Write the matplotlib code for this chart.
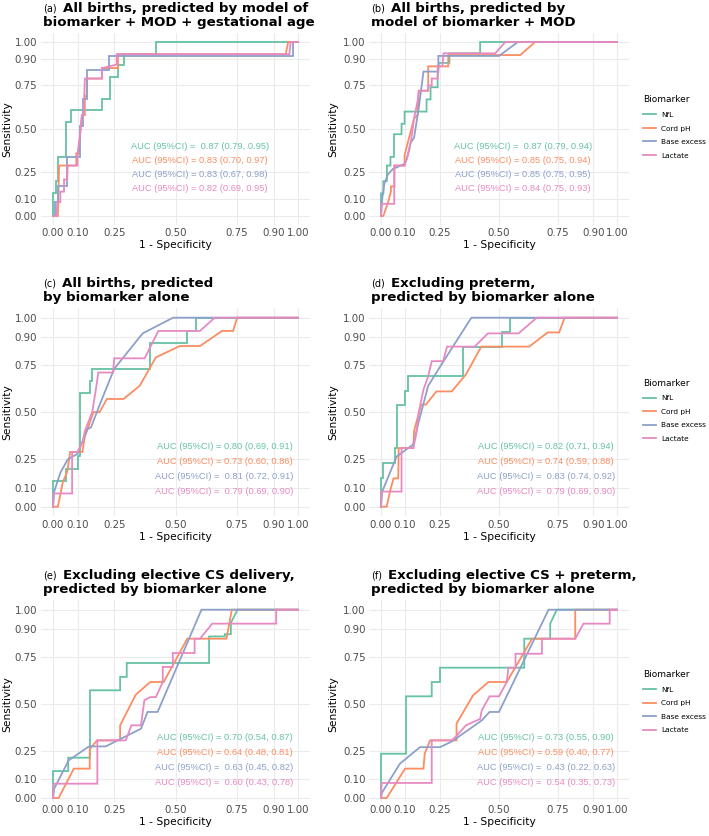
import matplotlib
matplotlib.use('Agg')
import matplotlib.pyplot as plt

W, H = 709, 836

biomarkers = ['NfL', 'Cord pH', 'Base excess', 'Lactate']
colours = ['#66C2A5', '#FC8D62', '#8DA0CB', '#E78AC3']
breaks = [0, 0.1, 0.25, 0.5, 0.75, 0.9, 1]
break_labels = ['0.00', '0.10', '0.25', '0.50', '0.75', '0.90', '1.00']

# ROC curves, as (1 - specificity, sensitivity)
a_nfl = [(0, 0), (0, 0.13), (0.012, 0.13), (0.012, 0.2), (0.02, 0.2), (0.02, 0.34), (0.055, 0.34),
         (0.055, 0.54), (0.074, 0.54), (0.074, 0.61), (0.2, 0.61), (0.2, 0.67), (0.233, 0.67),
         (0.233, 0.8), (0.266, 0.8), (0.266, 0.87), (0.29, 0.87), (0.29, 0.93), (0.42, 0.93),
         (0.42, 1.0), (1, 1)]
a_ph = [(0, 0), (0.02, 0), (0.025, 0.29), (0.095, 0.29), (0.095, 0.36), (0.105, 0.36), (0.11, 0.46),
        (0.118, 0.58), (0.13, 0.58), (0.13, 0.69), (0.137, 0.69), (0.14, 0.79), (0.2, 0.79),
        (0.2, 0.85), (0.265, 0.85), (0.265, 0.93), (0.95, 0.93), (0.96, 1.0), (1, 1)]
a_be = [(0, 0), (0.01, 0), (0.01, 0.08), (0.022, 0.08), (0.022, 0.17), (0.058, 0.17), (0.058, 0.34),
        (0.11, 0.34), (0.11, 0.52), (0.123, 0.52), (0.123, 0.67), (0.14, 0.67), (0.14, 0.84),
        (0.229, 0.84), (0.229, 0.92), (0.98, 0.92), (0.98, 1.0), (1, 1)]
a_lac = [(0, 0), (0.015, 0), (0.017, 0.08), (0.03, 0.08), (0.03, 0.14), (0.045, 0.14), (0.045, 0.21),
         (0.058, 0.21), (0.06, 0.29), (0.1, 0.29), (0.1, 0.36), (0.11, 0.46), (0.118, 0.58),
         (0.125, 0.58), (0.13, 0.79), (0.2, 0.79), (0.2, 0.85), (0.26, 0.87), (0.26, 0.93),
         (0.965, 0.93), (0.97, 1.0), (1, 1)]

b_nfl = [(0, 0), (0, 0.13), (0.01, 0.13), (0.01, 0.2), (0.025, 0.2), (0.025, 0.29), (0.04, 0.29),
         (0.04, 0.34), (0.055, 0.34), (0.055, 0.47), (0.087, 0.47), (0.087, 0.53), (0.1, 0.53),
         (0.1, 0.6), (0.193, 0.6), (0.193, 0.67), (0.21, 0.67), (0.21, 0.74), (0.24, 0.74),
         (0.24, 0.8), (0.245, 0.88), (0.29, 0.88), (0.29, 0.935), (0.42, 0.935), (0.42, 1.0), (1, 1)]
b_ph = [(0, 0), (0.01, 0), (0.03, 0.08), (0.042, 0.14), (0.042, 0.17), (0.057, 0.17), (0.057, 0.29),
        (0.1, 0.29), (0.1, 0.35), (0.117, 0.44), (0.14, 0.56), (0.155, 0.58), (0.16, 0.72),
        (0.2, 0.72), (0.2, 0.86), (0.285, 0.86), (0.285, 0.925), (0.59, 0.925), (0.653, 1.0), (1, 1)]
b_be = [(0, 0), (0.005, 0.1), (0.015, 0.19), (0.03, 0.24), (0.05, 0.27), (0.1, 0.3), (0.11, 0.33),
        (0.125, 0.42), (0.14, 0.45), (0.16, 0.62), (0.18, 0.83), (0.243, 0.83), (0.243, 0.92),
        (0.5, 0.92), (0.58, 1.0), (1, 1)]
b_lac = [(0, 0), (0.003, 0.07), (0.056, 0.07), (0.056, 0.29), (0.1, 0.29), (0.12, 0.38), (0.13, 0.46),
         (0.14, 0.56), (0.155, 0.66), (0.16, 0.72), (0.2, 0.72), (0.2, 0.75), (0.215, 0.75),
         (0.215, 0.79), (0.24, 0.79), (0.24, 0.86), (0.26, 0.86), (0.265, 0.935), (0.484, 0.935),
         (0.527, 1.0), (1, 1)]

c_nfl = [(0, 0), (0, 0.136), (0.055, 0.136), (0.055, 0.2), (0.1, 0.2), (0.1, 0.27), (0.11, 0.27),
         (0.11, 0.6), (0.151, 0.6), (0.151, 0.665), (0.16, 0.665), (0.16, 0.73), (0.394, 0.73),
         (0.394, 0.864), (0.547, 0.864), (0.547, 0.93), (0.585, 0.93), (0.585, 1.0), (1, 1)]
c_ph = [(0, 0), (0.02, 0), (0.04, 0.13), (0.058, 0.185), (0.07, 0.29), (0.12, 0.29), (0.13, 0.37),
        (0.165, 0.5), (0.19, 0.5), (0.22, 0.57), (0.288, 0.57), (0.354, 0.64), (0.42, 0.79),
        (0.517, 0.85), (0.6, 0.85), (0.69, 0.93), (0.735, 0.93), (0.752, 1.0), (1, 1)]
c_be = [(0, 0), (0.005, 0.08), (0.03, 0.18), (0.06, 0.25), (0.1, 0.28), (0.125, 0.36), (0.14, 0.41),
        (0.155, 0.42), (0.2, 0.57), (0.25, 0.73), (0.366, 0.917), (0.49, 1.0), (1, 1)]
c_lac = [(0, 0), (0.003, 0.07), (0.078, 0.07), (0.078, 0.29), (0.1, 0.29), (0.12, 0.34), (0.13, 0.4),
         (0.16, 0.5), (0.175, 0.62), (0.185, 0.71), (0.245, 0.71), (0.25, 0.785), (0.374, 0.785),
         (0.43, 0.93), (0.6, 0.93), (0.66, 1.0), (1, 1)]

d_nfl = [(0, 0), (0, 0.15), (0.01, 0.15), (0.01, 0.23), (0.06, 0.23), (0.06, 0.31), (0.068, 0.31),
         (0.068, 0.54), (0.1, 0.54), (0.1, 0.61), (0.113, 0.61), (0.113, 0.693), (0.348, 0.693),
         (0.348, 0.847), (0.512, 0.847), (0.512, 0.925), (0.547, 0.925), (0.547, 1.0), (1, 1)]
d_ph = [(0, 0), (0.024, 0), (0.04, 0.09), (0.053, 0.15), (0.073, 0.15), (0.075, 0.31), (0.137, 0.31),
        (0.14, 0.4), (0.17, 0.54), (0.19, 0.54), (0.235, 0.61), (0.3, 0.61), (0.36, 0.7),
        (0.425, 0.847), (0.628, 0.847), (0.706, 0.922), (0.755, 0.922), (0.778, 1.0), (1, 1)]
d_be = [(0, 0), (0.005, 0.08), (0.066, 0.265), (0.137, 0.33), (0.16, 0.45), (0.2, 0.64), (0.26, 0.76),
        (0.383, 1.0), (1, 1)]
d_lac = [(0, 0), (0.003, 0.08), (0.087, 0.08), (0.087, 0.31), (0.137, 0.31), (0.15, 0.39), (0.16, 0.5),
         (0.18, 0.62), (0.2, 0.69), (0.215, 0.77), (0.263, 0.77), (0.28, 0.847), (0.397, 0.847),
         (0.453, 0.917), (0.583, 0.917), (0.66, 1.0), (1, 1)]

e_nfl = [(0, 0), (0, 0.143), (0.062, 0.143), (0.062, 0.214), (0.151, 0.214), (0.151, 0.572),
         (0.274, 0.572), (0.274, 0.643), (0.301, 0.643), (0.301, 0.717), (0.637, 0.717),
         (0.637, 0.858), (0.701, 0.858), (0.701, 0.87), (0.726, 0.87), (0.726, 0.93), (0.753, 1.0), (1, 1)]
e_ph = [(0, 0), (0.023, 0), (0.085, 0.156), (0.15, 0.156), (0.15, 0.26), (0.18, 0.306), (0.274, 0.306),
        (0.274, 0.386), (0.338, 0.549), (0.397, 0.616), (0.452, 0.616), (0.548, 0.846),
        (0.708, 0.846), (0.73, 1.0), (1, 1)]
e_be = [(0, 0), (0.005, 0.05), (0.064, 0.2), (0.147, 0.274), (0.215, 0.274), (0.359, 0.368),
        (0.386, 0.457), (0.427, 0.457), (0.606, 1.0), (1, 1)]
e_lac = [(0, 0), (0.003, 0.076), (0.181, 0.076), (0.181, 0.306), (0.297, 0.306), (0.32, 0.386),
         (0.359, 0.386), (0.373, 0.519), (0.397, 0.536), (0.42, 0.536), (0.448, 0.616), (0.448, 0.696),
         (0.489, 0.696), (0.489, 0.77), (0.578, 0.77), (0.578, 0.846), (0.6, 0.846), (0.65, 0.926),
         (0.911, 0.926), (0.911, 1.0), (1, 1)]

f_nfl = [(0, 0), (0, 0.235), (0.106, 0.235), (0.106, 0.54), (0.215, 0.54), (0.215, 0.616), (0.25, 0.616),
         (0.25, 0.692), (0.607, 0.692), (0.607, 0.846), (0.717, 0.846), (0.717, 0.926), (0.745, 1.0), (1, 1)]
f_ph = [(0, 0), (0.024, 0), (0.102, 0.156), (0.18, 0.156), (0.185, 0.235), (0.208, 0.306), (0.32, 0.306),
        (0.32, 0.395), (0.39, 0.545), (0.455, 0.616), (0.533, 0.616), (0.64, 0.846), (0.823, 0.846),
        (0.823, 1.0), (1, 1)]
f_be = [(0, 0), (0.005, 0.03), (0.08, 0.182), (0.165, 0.27), (0.25, 0.27), (0.3, 0.3), (0.427, 0.412),
        (0.46, 0.457), (0.5, 0.457), (0.71, 1.0), (1, 1)]
f_lac = [(0, 0), (0.003, 0.08), (0.215, 0.08), (0.215, 0.306), (0.3, 0.306), (0.32, 0.33), (0.36, 0.386),
         (0.42, 0.42), (0.427, 0.465), (0.46, 0.54), (0.5, 0.54), (0.533, 0.616), (0.54, 0.692),
         (0.57, 0.692), (0.57, 0.766), (0.682, 0.766), (0.682, 0.846), (0.823, 0.846), (0.858, 0.926),
         (0.969, 0.926), (0.969, 1.0), (1, 1)]

tags = ['a', 'b', 'c', 'd', 'e', 'f']
titles = [
    ('All births, predicted by model of', 'biomarker + MOD + gestational age'),
    ('All births, predicted by', 'model of biomarker + MOD'),
    ('All births, predicted', 'by biomarker alone'),
    ('Excluding preterm,', 'predicted by biomarker alone'),
    ('Excluding elective CS delivery,', 'predicted by biomarker alone'),
    ('Excluding elective CS + preterm,', 'predicted by biomarker alone'),
]
curves = [
    [a_nfl, a_ph, a_be, a_lac],
    [b_nfl, b_ph, b_be, b_lac],
    [c_nfl, c_ph, c_be, c_lac],
    [d_nfl, d_ph, d_be, d_lac],
    [e_nfl, e_ph, e_be, e_lac],
    [f_nfl, f_ph, f_be, f_lac],
]
auc_text = [
    ['AUC (95%CI) =  0.87 (0.79, 0.95)', 'AUC (95%CI) = 0.83 (0.70, 0.97)',
     'AUC (95%CI) = 0.83 (0.67, 0.98)', 'AUC (95%CI) = 0.82 (0.69, 0.95)'],
    ['AUC (95%CI) =  0.87 (0.79, 0.94)', 'AUC (95%CI) = 0.85 (0.75, 0.94)',
     'AUC (95%CI) = 0.85 (0.75, 0.95)', 'AUC (95%CI) = 0.84 (0.75, 0.93)'],
    ['AUC (95%CI) = 0.80 (0.69, 0.91)', 'AUC (95%CI) = 0.73 (0.60, 0.86)',
     'AUC (95%CI) =  0.81 (0.72, 0.91)', 'AUC (95%CI) =  0.79 (0.69, 0.90)'],
    ['AUC (95%CI) = 0.82 (0.71, 0.94)', 'AUC (95%CI) = 0.74 (0.59, 0.88)',
     'AUC (95%CI) =  0.83 (0.74, 0.92)', 'AUC (95%CI) =  0.79 (0.69, 0.90)'],
    ['AUC (95%CI) = 0.70 (0.54, 0.87)', 'AUC (95%CI) = 0.64 (0.48, 0.81)',
     'AUC (95%CI) =  0.63 (0.45, 0.82)', 'AUC (95%CI) =  0.60 (0.43, 0.78)'],
    ['AUC (95%CI) = 0.73 (0.55, 0.90)', 'AUC (95%CI) = 0.59 (0.40, 0.77)',
     'AUC (95%CI) =  0.43 (0.22, 0.63)', 'AUC (95%CI) =  0.54 (0.35, 0.73)'],
]
auc_x = [0.60, 0.60, 0.70, 0.70, 0.70, 0.70]
auc_y = [[0.40, 0.32, 0.24, 0.16]] * 2 + [[0.32, 0.24, 0.16, 0.08]] * 4

# layout in pixels: column x of data 0 and 1, row y of data 1 and 0, bottom padding
col_x = [(53.0, 298.0), (381.0, 617.0)]
row_y = [(42.0, 216.0), (317.7, 506.7), (609.7, 798.0)]
row_pad_bottom = [0.05, 0.05, 0.02]


def fx(x):
    return x / W


def fy(y):
    return 1 - y / H


def draw_panel(fig, i):
    row, col = divmod(i, 2)
    x0, x1 = col_x[col]
    y1, y0 = row_y[row]
    sx = x1 - x0
    sy = y0 - y1
    left, right = x0 - 0.05 * sx, x1 + 0.05 * sx
    top = y1 - 0.05 * sy
    bottom = y0 + row_pad_bottom[row] * sy

    ax = fig.add_axes([fx(left), fy(bottom), (right - left) / W, (bottom - top) / H])
    ax.set_xlim(-0.05, 1.05)
    ax.set_ylim(-row_pad_bottom[row], 1.05)
    for s in ax.spines.values():
        s.set_visible(False)
    ax.set_xticks(breaks)
    ax.set_yticks(breaks)
    ax.set_xticklabels(break_labels)
    ax.set_yticklabels(break_labels)
    ax.tick_params(length=0, labelsize=7.4, labelcolor='#4D4D4D', pad=2.6)
    ax.grid(True, color='#EBEBEB', lw=0.8)
    ax.set_axisbelow(True)

    for pts, name, c in zip(curves[i], biomarkers, colours):
        xs = [p[0] for p in pts]
        ys = [p[1] for p in pts]
        ax.plot(xs, ys, color=c, lw=1.3, label=name, solid_joinstyle='miter')

    for txt, y, c in zip(auc_text[i], auc_y[i], colours):
        ax.text(auc_x[i], y, txt, color=c, fontsize=6.7, family='Liberation Sans',
                ha='center', va='center')

    # axis titles
    fig.text(fx((left + right) / 2), fy(bottom + 20.5), '1 - Specificity', fontsize=7.7,
             ha='center', va='center')
    fig.text(fx(left - 33.5 if col == 0 else left - 36), fy((y0 + y1) / 2), 'Sensitivity',
             fontsize=7.7, rotation=90, ha='center', va='center')

    # title: small tag + bold two-line text
    base1 = top - 21.5
    base2 = top - 7.5
    t1 = fig.text(fx(left + 2), fy(base1), '(%s)' % tags[i], fontsize=7, va='baseline', ha='left')
    ax.annotate(titles[i][0], xy=(1, fy(base1)), xycoords=(t1, 'figure fraction'),
                xytext=(4.5, 0), textcoords='offset points', fontsize=9.6, fontweight='bold',
                va='baseline', ha='left', annotation_clip=False)
    fig.text(fx(left + 2), fy(base2), titles[i][1], fontsize=9.6, fontweight='bold',
             va='baseline', ha='left')

    if col == 1:
        ax.legend(loc='center left', bbox_to_anchor=(fx(643), fy((y0 + y1) / 2 - 2)),
                  bbox_transform=fig.transFigure, frameon=False, title='Biomarker',
                  fontsize=5.3, title_fontsize=6.5, alignment='left', handlelength=1.7,
                  handletextpad=0.76, labelspacing=1.0, borderpad=0, borderaxespad=0)
    return ax


def main():
    fig = plt.figure(figsize=(W / 100, H / 100), dpi=100)
    for i in range(6):
        draw_panel(fig, i)
    fig.savefig('out.png', dpi=100)


if __name__ == '__main__':
    main()
